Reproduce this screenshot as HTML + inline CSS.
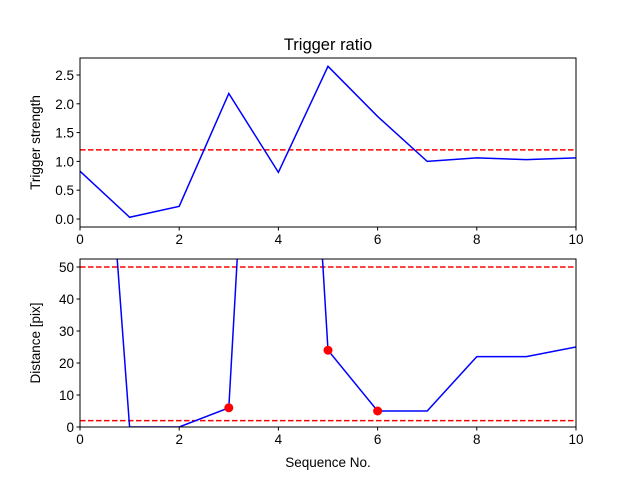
<!DOCTYPE html>
<html><head><meta charset="utf-8"><style>body{margin:0;background:#fff}svg{display:block;font-family:"Liberation Sans","DejaVu Sans",sans-serif}</style></head>
<body>
<svg id="chart" width="640" height="480" viewBox="0 0 640 480">
<rect width="640" height="480" fill="#fff"/>
<g id="g"></g>
</svg>
<script>
const seqX = [0,1,2,3,4,5,6,7,8,9,10];
const strength = [0.83,0.03,0.22,2.18,0.81,2.65,1.78,1.0,1.06,1.03,1.06];
const strengthThreshold = [1.2];
const distance = [210,0,0,6,280,24,5,5,22,22,25];
const markedX = [3,5,6];
const markedDist = [6,24,5];
const distThresholds = [50,2];
const xTicks = [0,2,4,6,8,10];
const topYTicks = [0,0.5,1,1.5,2,2.5];
const botYTicks = [0,10,20,30,40,50];

const NS='http://www.w3.org/2000/svg';
const g=document.getElementById('g');
function el(t,a,p){const e=document.createElementNS(NS,t);for(const k in a)e.setAttribute(k,a[k]);(p||g).appendChild(e);return e;}
const L=80,R=576;
const sx=v=>L+(R-L)*v/10;
function axes(top,bot,ymin,ymax,name,yTicks,fmt,ylab,data,thr,id){
  const sy=v=>bot-(bot-top)*(v-ymin)/(ymax-ymin);
  const grp=el('g',{});
  
  
  el('rect',{x:L,y:top,width:R-L,height:bot-top,fill:'#fff'},grp);
  const cp=el('clipPath',{id:id},grp);el('rect',{x:L,y:top,width:R-L,height:bot-top},cp);
  const plot=el('g',{'clip-path':'url(#'+id+')'},grp);
  thr.forEach(t=>{const ln=el('line',{x1:L,x2:R,y1:sy(t),y2:sy(t),stroke:'#f00','stroke-width':1.5,'stroke-dasharray':'5.5,2.5'},plot);
    
    });
  const pl=el('polyline',{points:seqX.map((x,i)=>sx(x)+','+sy(data[i])).join(' '),fill:'none',stroke:'#00f','stroke-width':1.5},plot);
  
  
  el('rect',{x:L,y:top,width:R-L,height:bot-top,fill:'none',stroke:'#000','stroke-width':1},grp);
  xTicks.forEach(t=>{el('line',{x1:sx(t),x2:sx(t),y1:bot,y2:bot+3.5,stroke:'#000'},grp);
    const tx=el('text',{x:sx(t),y:bot+17,'font-size':13.5,'text-anchor':'middle'},grp);tx.textContent=t;
    
    });
  yTicks.forEach(t=>{el('line',{x1:L-3.5,x2:L,y1:sy(t),y2:sy(t),stroke:'#000'},grp);
    const tx=el('text',{x:L-6,y:sy(t)+5,'font-size':13.5,'text-anchor':'end'},grp);tx.textContent=fmt(t);
    
    });
  const yl=el('text',{x:0,y:0,'font-size':13.5,'text-anchor':'middle',transform:`translate(40,${(top+bot)/2}) rotate(-90)`},grp);yl.textContent=ylab;
  
  
  return {sy,plot,grp};
}
const t=el('text',{x:328,y:50,'font-size':16.5,'text-anchor':'middle'});t.textContent='Trigger ratio';


axes(58,227,-0.139,2.795,'top-axes',topYTicks,v=>v.toFixed(1),'Trigger strength',strength,strengthThreshold,'c1');
const xl1=el('text',{x:328,y:268,'font-size':13.5,'text-anchor':'middle'});xl1.textContent='Sequence No.';


const b=axes(259,427,0,52.5,'bottom-axes',botYTicks,v=>String(v),'Distance [pix]',distance,distThresholds,'c2');
markedX.forEach((x,i)=>{const c=el('circle',{cx:sx(x),cy:b.sy(markedDist[i]),r:4.5,fill:'#f00'},b.plot);
  
  });
const xl2=el('text',{x:328,y:467,'font-size':13.5,'text-anchor':'middle'});xl2.textContent='Sequence No.';


</script>
</body></html>
